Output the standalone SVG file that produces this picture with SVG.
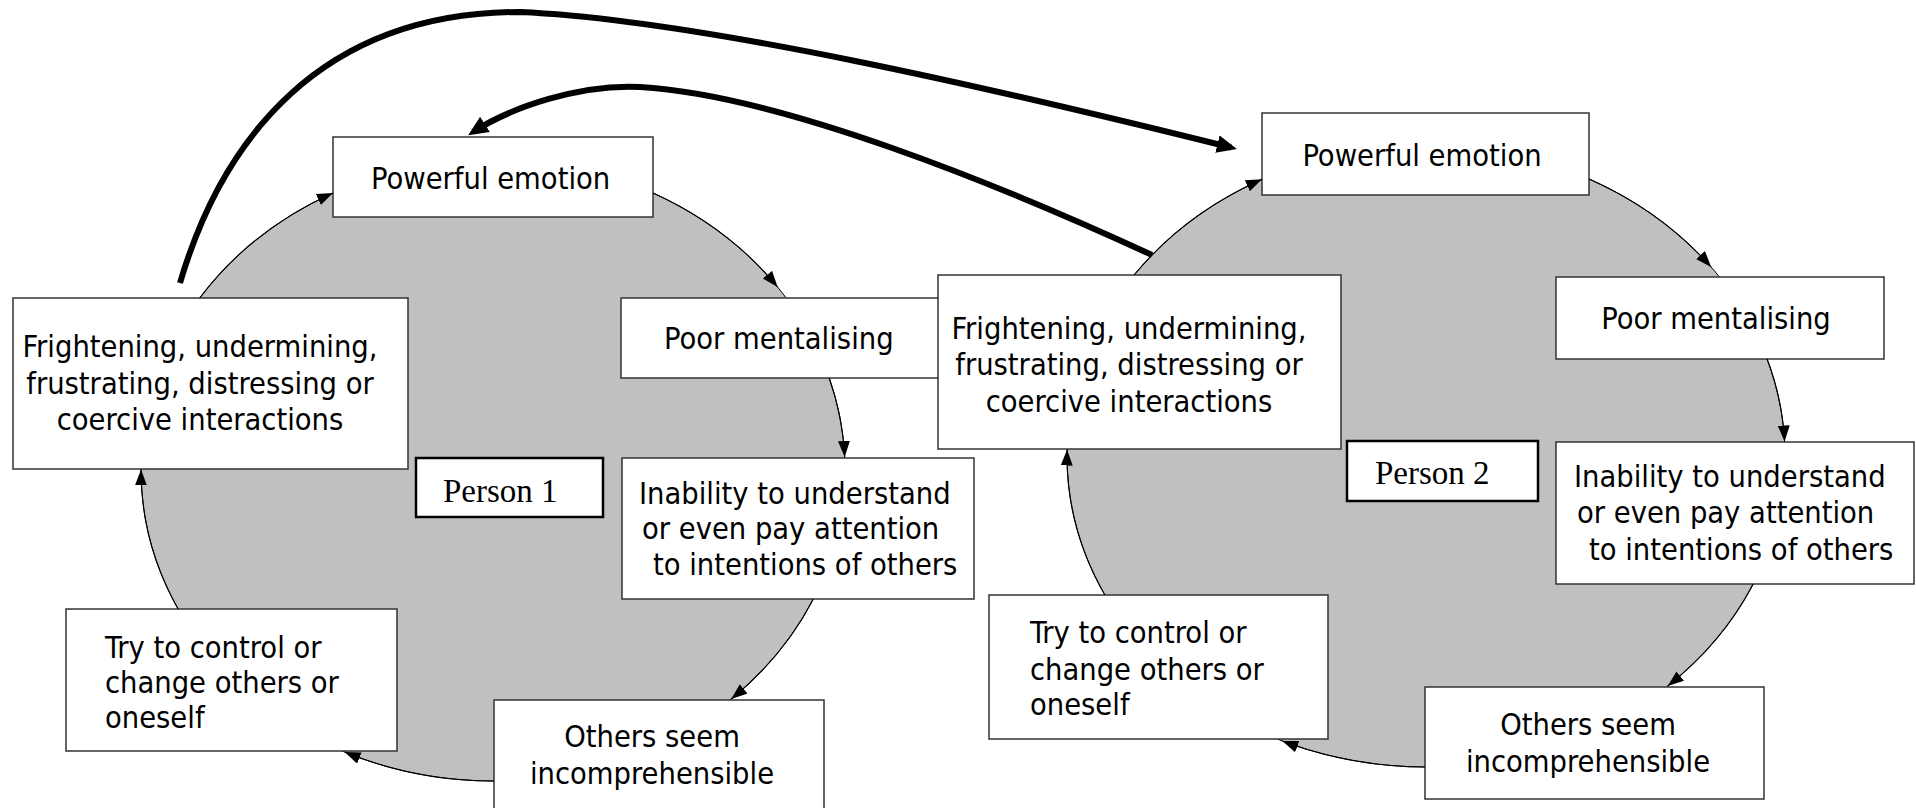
<svg xmlns="http://www.w3.org/2000/svg" width="1916" height="808" viewBox="0 0 1916 808">
<defs>
<style>
.bg{fill:#c0c0c0;stroke:#000;stroke-width:1}
.box{fill:#fff;stroke:#333;stroke-width:1.5}
.pbox{fill:#fff;stroke:#000;stroke-width:2.5}
.t{font-family:'DejaVu Sans Condensed','DejaVu Sans',sans-serif;font-stretch:condensed;font-size:30.5px;fill:#000}
.c{text-anchor:middle}
.p{font-family:'Liberation Serif','Times New Roman',serif;font-size:33px;fill:#000}
.arc{fill:none;stroke:#000;stroke-width:1.1;marker-end:url(#ah)}
.big{fill:none;stroke:#000;stroke-width:6;marker-end:url(#bh)}
</style>
<marker id="ah" markerUnits="userSpaceOnUse" markerWidth="18" markerHeight="14" refX="16" refY="6" orient="auto"><path d="M0,0 L16,6 L0,12 z" fill="#000"/></marker>
<marker id="bh" markerUnits="userSpaceOnUse" markerWidth="22" markerHeight="20" refX="14" refY="9" orient="auto"><path d="M0,0 L20,9 L0,18 z" fill="#000"/></marker>
</defs>
<g id="backgrounds">
<ellipse class="bg" cx="493" cy="470" rx="352" ry="311"/>
<ellipse class="bg" cx="1426" cy="456" rx="359" ry="311"/>
</g>
<g id="p1-powerful"><rect class="box" x="333" y="137" width="320" height="80"/><text class="t" x="371" y="189">Powerful emotion</text></g>
<g id="p1-frightening"><rect class="box" x="13" y="298" width="395" height="171"/><text class="t c"><tspan x="200" y="357">Frightening, undermining,</tspan><tspan x="200" y="394">frustrating, distressing or</tspan><tspan x="200" y="430">coercive interactions</tspan></text></g>
<g id="p1-poor"><rect class="box" x="621" y="298" width="320" height="80"/><text class="t" x="664" y="349">Poor mentalising</text></g>
<g id="p1-inability"><rect class="box" x="622" y="458" width="352" height="141"/><text class="t"><tspan x="639" y="504">Inability to understand</tspan><tspan x="642" y="539">or even pay attention</tspan><tspan x="653" y="575">to intentions of others</tspan></text></g>
<g id="p1-person"><rect class="pbox" x="416" y="458" width="187" height="59"/><text class="p" x="443" y="502">Person 1</text></g>
<g id="p1-try"><rect class="box" x="66" y="609" width="331" height="142"/><text class="t"><tspan x="105" y="658">Try to control or</tspan><tspan x="105" y="693">change others or</tspan><tspan x="105" y="728">oneself</tspan></text></g>
<g id="p1-others"><rect class="box" x="494" y="700" width="330" height="112"/><text class="t c"><tspan x="652" y="747">Others seem</tspan><tspan x="652" y="784">incomprehensible</tspan></text></g>
<g id="p2-powerful"><rect class="box" x="1262" y="113" width="327" height="82"/><text class="t c" x="1422" y="166">Powerful emotion</text></g>
<g id="p2-frightening"><rect class="box" x="938" y="275" width="403" height="174"/><text class="t c"><tspan x="1129" y="339">Frightening, undermining,</tspan><tspan x="1129" y="375">frustrating, distressing or</tspan><tspan x="1129" y="412">coercive interactions</tspan></text></g>
<g id="p2-poor"><rect class="box" x="1556" y="277" width="328" height="82"/><text class="t c" x="1716" y="329">Poor mentalising</text></g>
<g id="p2-inability"><rect class="box" x="1556" y="442" width="358" height="142"/><text class="t"><tspan x="1574" y="487">Inability to understand</tspan><tspan x="1577" y="523">or even pay attention</tspan><tspan x="1589" y="560">to intentions of others</tspan></text></g>
<g id="p2-person"><rect class="pbox" x="1347" y="441" width="191" height="60"/><text class="p" x="1375" y="484">Person 2</text></g>
<g id="p2-try"><rect class="box" x="989" y="595" width="339" height="144"/><text class="t"><tspan x="1030" y="643">Try to control or</tspan><tspan x="1030" y="680">change others or</tspan><tspan x="1030" y="715">oneself</tspan></text></g>
<g id="p2-others"><rect class="box" x="1425" y="687" width="339" height="112"/><text class="t c"><tspan x="1588" y="735">Others seem</tspan><tspan x="1588" y="772">incomprehensible</tspan></text></g>
<g id="connectors">
<path class="arc" d="M199.7,298 A352,311 0 0,1 333,193"/>
<path class="arc" d="M653,193 A352,311 0 0,1 777.6,287"/>
<path class="arc" d="M829.2,378 A352,311 0 0,1 844.7,457"/>
<path class="arc" d="M813.3,599 A352,311 0 0,1 731.2,699"/>
<path class="arc" d="M494,781 A352,311 0 0,1 344.6,752"/>
<path class="arc" d="M178.1,609 A352,311 0 0,1 141,469.5"/>
<path class="arc" d="M1134.1,275 A359,311 0 0,1 1262,179.3"/>
<path class="arc" d="M1589,178.9 A359,311 0 0,1 1711.1,267"/>
<path class="arc" d="M1767.1,359 A359,311 0 0,1 1784.6,441.5"/>
<path class="arc" d="M1753.2,584 A359,311 0 0,1 1667.7,686"/>
<path class="arc" d="M1425,767 A359,311 0 0,1 1282.3,741"/>
<path class="arc" d="M1104.9,595 A359,311 0 0,1 1067.1,449.5"/>
<path class="big" d="M180,283 C222,140 320,12 520,12 C700,20 1000,90 1231,147.5"/>
<path class="big" d="M1152,255 C1000,185 780,95 640,87 C580,84 512,107 473.2,131.9"/>
</g>
</svg>
